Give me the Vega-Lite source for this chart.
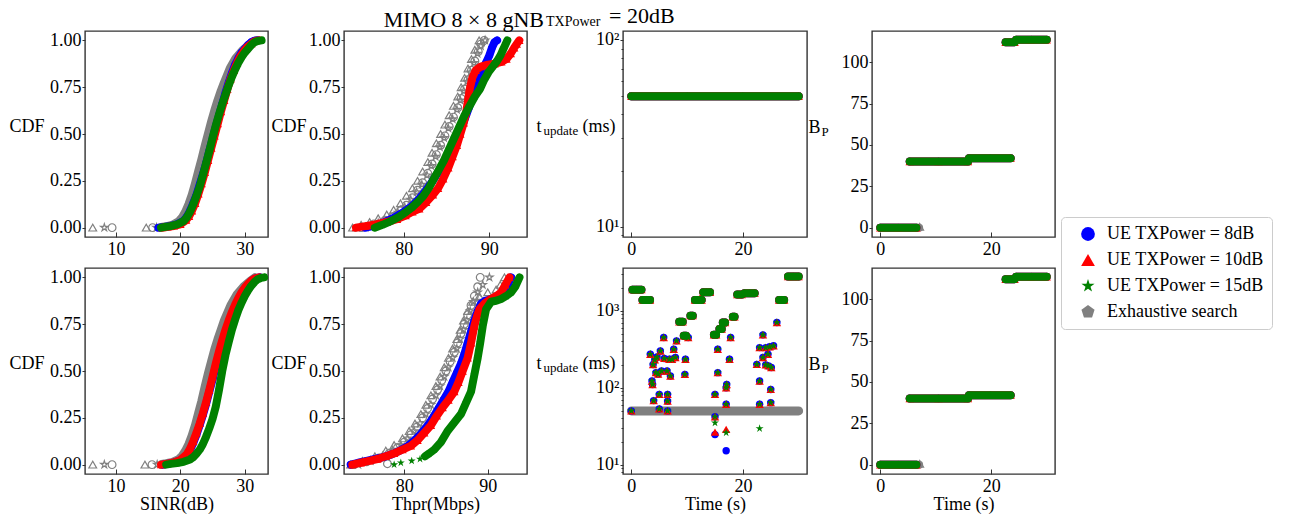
{
"$schema":"https://vega.github.io/schema/vega-lite/v6.json",
"padding":{"left":8,"top":4,"right":4,"bottom":0},
"bounds":"flush",
"spacing":237,
"resolve":{"scale":{"color":"shared","shape":"shared"}},
"config":{
"font":"Liberation Serif",
"view":{"stroke":"#333333","strokeWidth":1.4},
"axis":{"domain":false,"grid":false,"labelFont":"Liberation Serif","labelFontSize":18,"labelColor":"#000000","tickColor":"#333333","tickWidth":1,"titleFont":"Liberation Serif","titleFontSize":18,"titleFontWeight":"normal","titleColor":"#000000","labelFlush":false,"labelOverlap":false},
"axisX":{"tickSize":-5,"labelPadding":8,"titleBaseline":"alphabetic"},
"axisY":{"tickSize":3,"labelPadding":1,"titleAngle":0,"titleAlign":"left","titleBaseline":"alphabetic"},
"point":{"opacity":1}
},
"datasets":{
"p1":[
{"x":16.6,"y":0,"s":"b"},{"x":17.5,"y":0.004,"s":"b"},{"x":18.5,"y":0.009,"s":"b"},{"x":19.5,"y":0.018,"s":"b"},{"x":20.5,"y":0.037,"s":"b"},{"x":21,"y":0.058,"s":"b"},{"x":21.5,"y":0.09,"s":"b"},{"x":22,"y":0.13,"s":"b"},{"x":22.5,"y":0.175,"s":"b"},{"x":23,"y":0.23,"s":"b"},{"x":23.5,"y":0.285,"s":"b"},{"x":24,"y":0.345,"s":"b"},{"x":24.5,"y":0.41,"s":"b"},{"x":25,"y":0.475,"s":"b"},{"x":25.5,"y":0.54,"s":"b"},{"x":26,"y":0.6,"s":"b"},{"x":26.5,"y":0.66,"s":"b"},{"x":27,"y":0.72,"s":"b"},{"x":27.5,"y":0.775,"s":"b"},{"x":28,"y":0.825,"s":"b"},{"x":28.5,"y":0.87,"s":"b"},{"x":29,"y":0.905,"s":"b"},{"x":29.5,"y":0.935,"s":"b"},{"x":30,"y":0.955,"s":"b"},{"x":30.5,"y":0.975,"s":"b"},{"x":31,"y":0.99,"s":"b"},{"x":31.5,"y":0.998,"s":"b"},{"x":32,"y":1,"s":"b"},
{"x":17.2,"y":0,"s":"r"},{"x":18,"y":0.004,"s":"r"},{"x":19,"y":0.009,"s":"r"},{"x":20,"y":0.018,"s":"r"},{"x":20.9,"y":0.04,"s":"r"},{"x":21.35,"y":0.06,"s":"r"},{"x":21.8,"y":0.09,"s":"r"},{"x":22.3,"y":0.13,"s":"r"},{"x":22.8,"y":0.18,"s":"r"},{"x":23.3,"y":0.235,"s":"r"},{"x":23.8,"y":0.295,"s":"r"},{"x":24.3,"y":0.36,"s":"r"},{"x":24.8,"y":0.425,"s":"r"},{"x":25.3,"y":0.49,"s":"r"},{"x":25.8,"y":0.555,"s":"r"},{"x":26.3,"y":0.62,"s":"r"},{"x":26.8,"y":0.68,"s":"r"},{"x":27.3,"y":0.74,"s":"r"},{"x":27.8,"y":0.795,"s":"r"},{"x":28.3,"y":0.84,"s":"r"},{"x":28.8,"y":0.88,"s":"r"},{"x":29.3,"y":0.915,"s":"r"},{"x":29.9,"y":0.945,"s":"r"},{"x":30.4,"y":0.965,"s":"r"},{"x":31,"y":0.982,"s":"r"},{"x":31.5,"y":0.995,"s":"r"},{"x":32.2,"y":1,"s":"r"},
{"x":17,"y":0,"s":"g"},{"x":17.5,"y":0.003,"s":"g"},{"x":18.5,"y":0.008,"s":"g"},{"x":19.5,"y":0.017,"s":"g"},{"x":20.5,"y":0.035,"s":"g"},{"x":21,"y":0.055,"s":"g"},{"x":21.5,"y":0.085,"s":"g"},{"x":22,"y":0.125,"s":"g"},{"x":22.5,"y":0.17,"s":"g"},{"x":23,"y":0.22,"s":"g"},{"x":23.5,"y":0.28,"s":"g"},{"x":24,"y":0.345,"s":"g"},{"x":24.5,"y":0.41,"s":"g"},{"x":25,"y":0.48,"s":"g"},{"x":25.5,"y":0.545,"s":"g"},{"x":26,"y":0.605,"s":"g"},{"x":26.5,"y":0.66,"s":"g"},{"x":27,"y":0.71,"s":"g"},{"x":27.5,"y":0.76,"s":"g"},{"x":28,"y":0.805,"s":"g"},{"x":28.5,"y":0.845,"s":"g"},{"x":29,"y":0.88,"s":"g"},{"x":29.5,"y":0.91,"s":"g"},{"x":30,"y":0.935,"s":"g"},{"x":30.5,"y":0.955,"s":"g"},{"x":31,"y":0.975,"s":"g"},{"x":31.5,"y":0.99,"s":"g"},{"x":32,"y":0.997,"s":"g"},{"x":32.6,"y":1,"s":"g"},
{"x":17,"y":0.002,"s":"e","k":"l"},{"x":17.8,"y":0.006,"s":"e","k":"l"},{"x":18.8,"y":0.015,"s":"e","k":"l"},{"x":19.8,"y":0.035,"s":"e","k":"l"},{"x":20.3,"y":0.055,"s":"e","k":"l"},{"x":20.8,"y":0.085,"s":"e","k":"l"},{"x":21.3,"y":0.125,"s":"e","k":"l"},{"x":21.8,"y":0.175,"s":"e","k":"l"},{"x":22.3,"y":0.235,"s":"e","k":"l"},{"x":22.8,"y":0.3,"s":"e","k":"l"},{"x":23.3,"y":0.365,"s":"e","k":"l"},{"x":23.8,"y":0.435,"s":"e","k":"l"},{"x":24.3,"y":0.5,"s":"e","k":"l"},{"x":24.8,"y":0.565,"s":"e","k":"l"},{"x":25.3,"y":0.625,"s":"e","k":"l"},{"x":25.8,"y":0.68,"s":"e","k":"l"},{"x":26.3,"y":0.73,"s":"e","k":"l"},{"x":26.8,"y":0.775,"s":"e","k":"l"},{"x":27.7,"y":0.85,"s":"e","k":"l"},{"x":28.6,"y":0.905,"s":"e","k":"l"},{"x":29.6,"y":0.945,"s":"e","k":"l"},{"x":30.6,"y":0.975,"s":"e","k":"l"},{"x":31.8,"y":1,"s":"e","k":"l"},
{"x":6.4,"y":0,"s":"e","m":"r"},{"x":8.2,"y":0,"s":"e","m":"g"},{"x":9.4,"y":0,"s":"e","m":"b"},{"x":14.7,"y":0,"s":"e","m":"r"},{"x":15.7,"y":0,"s":"e","m":"b"},{"x":16.3,"y":0,"s":"e","m":"g"}
],
"p5":[
{"x":17.3,"y":0,"s":"b"},{"x":18,"y":0.004,"s":"b"},{"x":19,"y":0.011,"s":"b"},{"x":20,"y":0.023,"s":"b"},{"x":21,"y":0.05,"s":"b"},{"x":21.5,"y":0.078,"s":"b"},{"x":22,"y":0.115,"s":"b"},{"x":22.5,"y":0.16,"s":"b"},{"x":23,"y":0.21,"s":"b"},{"x":23.5,"y":0.265,"s":"b"},{"x":24,"y":0.325,"s":"b"},{"x":24.5,"y":0.39,"s":"b"},{"x":25,"y":0.455,"s":"b"},{"x":25.5,"y":0.525,"s":"b"},{"x":26,"y":0.59,"s":"b"},{"x":26.5,"y":0.65,"s":"b"},{"x":27,"y":0.705,"s":"b"},{"x":27.5,"y":0.755,"s":"b"},{"x":28,"y":0.8,"s":"b"},{"x":28.5,"y":0.845,"s":"b"},{"x":29,"y":0.88,"s":"b"},{"x":29.5,"y":0.915,"s":"b"},{"x":30,"y":0.94,"s":"b"},{"x":30.5,"y":0.963,"s":"b"},{"x":31,"y":0.98,"s":"b"},{"x":31.5,"y":0.992,"s":"b"},{"x":32.3,"y":1,"s":"b"},
{"x":17,"y":0,"s":"r"},{"x":18,"y":0.005,"s":"r"},{"x":19,"y":0.012,"s":"r"},{"x":20,"y":0.025,"s":"r"},{"x":21,"y":0.055,"s":"r"},{"x":21.5,"y":0.085,"s":"r"},{"x":22,"y":0.125,"s":"r"},{"x":22.5,"y":0.17,"s":"r"},{"x":23,"y":0.22,"s":"r"},{"x":23.5,"y":0.275,"s":"r"},{"x":24,"y":0.335,"s":"r"},{"x":24.5,"y":0.4,"s":"r"},{"x":25,"y":0.47,"s":"r"},{"x":25.5,"y":0.54,"s":"r"},{"x":26,"y":0.605,"s":"r"},{"x":26.5,"y":0.665,"s":"r"},{"x":27,"y":0.72,"s":"r"},{"x":27.5,"y":0.77,"s":"r"},{"x":28,"y":0.815,"s":"r"},{"x":28.5,"y":0.855,"s":"r"},{"x":29,"y":0.89,"s":"r"},{"x":29.5,"y":0.92,"s":"r"},{"x":30,"y":0.945,"s":"r"},{"x":30.5,"y":0.965,"s":"r"},{"x":31,"y":0.982,"s":"r"},{"x":31.5,"y":0.993,"s":"r"},{"x":32.2,"y":1,"s":"r"},
{"x":17.8,"y":0,"s":"g"},{"x":18.5,"y":0.004,"s":"g"},{"x":19.5,"y":0.008,"s":"g"},{"x":20.5,"y":0.015,"s":"g"},{"x":21.5,"y":0.028,"s":"g"},{"x":22,"y":0.04,"s":"g"},{"x":22.5,"y":0.058,"s":"g"},{"x":23,"y":0.08,"s":"g"},{"x":23.5,"y":0.11,"s":"g"},{"x":24,"y":0.15,"s":"g"},{"x":24.5,"y":0.195,"s":"g"},{"x":25,"y":0.245,"s":"g"},{"x":25.5,"y":0.31,"s":"g"},{"x":26,"y":0.4,"s":"g"},{"x":26.5,"y":0.5,"s":"g"},{"x":27,"y":0.585,"s":"g"},{"x":27.5,"y":0.655,"s":"g"},{"x":28,"y":0.72,"s":"g"},{"x":28.5,"y":0.775,"s":"g"},{"x":29,"y":0.825,"s":"g"},{"x":29.5,"y":0.865,"s":"g"},{"x":30,"y":0.9,"s":"g"},{"x":30.5,"y":0.93,"s":"g"},{"x":31,"y":0.955,"s":"g"},{"x":31.5,"y":0.975,"s":"g"},{"x":32,"y":0.99,"s":"g"},{"x":32.5,"y":0.997,"s":"g"},{"x":33,"y":1,"s":"g"},
{"x":17.1,"y":0.002,"s":"e","k":"l"},{"x":17.8,"y":0.006,"s":"e","k":"l"},{"x":18.8,"y":0.014,"s":"e","k":"l"},{"x":19.8,"y":0.03,"s":"e","k":"l"},{"x":20.3,"y":0.048,"s":"e","k":"l"},{"x":20.8,"y":0.075,"s":"e","k":"l"},{"x":21.3,"y":0.11,"s":"e","k":"l"},{"x":21.8,"y":0.155,"s":"e","k":"l"},{"x":22.3,"y":0.21,"s":"e","k":"l"},{"x":22.8,"y":0.275,"s":"e","k":"l"},{"x":23.3,"y":0.34,"s":"e","k":"l"},{"x":23.8,"y":0.415,"s":"e","k":"l"},{"x":24.3,"y":0.485,"s":"e","k":"l"},{"x":24.8,"y":0.55,"s":"e","k":"l"},{"x":25.3,"y":0.615,"s":"e","k":"l"},{"x":25.8,"y":0.67,"s":"e","k":"l"},{"x":26.3,"y":0.72,"s":"e","k":"l"},{"x":26.8,"y":0.77,"s":"e","k":"l"},{"x":27.3,"y":0.81,"s":"e","k":"l"},{"x":27.8,"y":0.85,"s":"e","k":"l"},{"x":28.8,"y":0.91,"s":"e","k":"l"},{"x":29.8,"y":0.95,"s":"e","k":"l"},{"x":30.8,"y":0.98,"s":"e","k":"l"},{"x":31.6,"y":1,"s":"e","k":"l"},
{"x":6.4,"y":0,"s":"e","m":"r"},{"x":8.2,"y":0,"s":"e","m":"g"},{"x":9.4,"y":0,"s":"e","m":"b"},{"x":14.5,"y":0,"s":"e","m":"r"},{"x":15.6,"y":0,"s":"e","m":"b"},{"x":16.4,"y":0,"s":"e","m":"g"}
],
"p2":[
{"x":75,"y":0,"s":"e","m":"b"},{"x":76.5,"y":0.02,"s":"e","m":"b"},{"x":77.8,"y":0.04,"s":"e","m":"b"},{"x":78.8,"y":0.06,"s":"e","m":"b"},{"x":79.6,"y":0.09,"s":"e","m":"b"},{"x":80.3,"y":0.12,"s":"e","m":"b"},{"x":81,"y":0.16,"s":"e","m":"b"},{"x":81.6,"y":0.2,"s":"e","m":"b"},{"x":82.2,"y":0.24,"s":"e","m":"b"},{"x":82.8,"y":0.29,"s":"e","m":"b"},{"x":83.3,"y":0.34,"s":"e","m":"b"},{"x":83.8,"y":0.39,"s":"e","m":"b"},{"x":84.3,"y":0.44,"s":"e","m":"b"},{"x":84.8,"y":0.49,"s":"e","m":"b"},{"x":85.3,"y":0.54,"s":"e","m":"b"},{"x":85.8,"y":0.59,"s":"e","m":"b"},{"x":86.3,"y":0.64,"s":"e","m":"b"},{"x":86.7,"y":0.69,"s":"e","m":"b"},{"x":87.1,"y":0.74,"s":"e","m":"b"},{"x":87.5,"y":0.79,"s":"e","m":"b"},{"x":87.9,"y":0.84,"s":"e","m":"b"},{"x":88.3,"y":0.89,"s":"e","m":"b"},{"x":88.7,"y":0.94,"s":"e","m":"b"},{"x":89,"y":0.98,"s":"e","m":"b"},{"x":89.4,"y":1,"s":"e","m":"b"},
{"x":74,"y":0,"s":"e","m":"r"},{"x":75,"y":0.015,"s":"e","m":"r"},{"x":76,"y":0.03,"s":"e","m":"r"},{"x":77,"y":0.05,"s":"e","m":"r"},{"x":78,"y":0.07,"s":"e","m":"r"},{"x":78.8,"y":0.095,"s":"e","m":"r"},{"x":79.6,"y":0.13,"s":"e","m":"r"},{"x":80.3,"y":0.17,"s":"e","m":"r"},{"x":81,"y":0.21,"s":"e","m":"r"},{"x":81.6,"y":0.25,"s":"e","m":"r"},{"x":82.2,"y":0.3,"s":"e","m":"r"},{"x":82.8,"y":0.35,"s":"e","m":"r"},{"x":83.3,"y":0.4,"s":"e","m":"r"},{"x":83.8,"y":0.45,"s":"e","m":"r"},{"x":84.3,"y":0.5,"s":"e","m":"r"},{"x":84.8,"y":0.55,"s":"e","m":"r"},{"x":85.3,"y":0.6,"s":"e","m":"r"},{"x":85.8,"y":0.65,"s":"e","m":"r"},{"x":86.3,"y":0.7,"s":"e","m":"r"},{"x":86.7,"y":0.75,"s":"e","m":"r"},{"x":87.1,"y":0.8,"s":"e","m":"r"},{"x":87.5,"y":0.85,"s":"e","m":"r"},{"x":87.9,"y":0.9,"s":"e","m":"r"},{"x":88.3,"y":0.95,"s":"e","m":"r"},{"x":88.8,"y":1,"s":"e","m":"r"},
{"x":75.5,"y":0,"s":"e","m":"g"},{"x":77,"y":0.025,"s":"e","m":"g"},{"x":78.3,"y":0.05,"s":"e","m":"g"},{"x":79.3,"y":0.08,"s":"e","m":"g"},{"x":80.1,"y":0.11,"s":"e","m":"g"},{"x":80.8,"y":0.15,"s":"e","m":"g"},{"x":81.5,"y":0.19,"s":"e","m":"g"},{"x":82.1,"y":0.23,"s":"e","m":"g"},{"x":82.7,"y":0.28,"s":"e","m":"g"},{"x":83.2,"y":0.33,"s":"e","m":"g"},{"x":83.7,"y":0.38,"s":"e","m":"g"},{"x":84.2,"y":0.43,"s":"e","m":"g"},{"x":84.7,"y":0.48,"s":"e","m":"g"},{"x":85.2,"y":0.53,"s":"e","m":"g"},{"x":85.7,"y":0.58,"s":"e","m":"g"},{"x":86.2,"y":0.63,"s":"e","m":"g"},{"x":86.6,"y":0.68,"s":"e","m":"g"},{"x":87,"y":0.73,"s":"e","m":"g"},{"x":87.4,"y":0.78,"s":"e","m":"g"},{"x":87.8,"y":0.83,"s":"e","m":"g"},{"x":88.2,"y":0.88,"s":"e","m":"g"},{"x":88.6,"y":0.93,"s":"e","m":"g"},{"x":89,"y":0.97,"s":"e","m":"g"},{"x":89.5,"y":1,"s":"e","m":"g"},
{"x":75.5,"y":0,"s":"b"},{"x":76.5,"y":0.01,"s":"b"},{"x":77.5,"y":0.025,"s":"b"},{"x":78.5,"y":0.045,"s":"b"},{"x":79.5,"y":0.07,"s":"b"},{"x":80.5,"y":0.1,"s":"b"},{"x":81.3,"y":0.13,"s":"b"},{"x":82,"y":0.165,"s":"b"},{"x":82.6,"y":0.2,"s":"b"},{"x":83.3,"y":0.245,"s":"b"},{"x":84,"y":0.295,"s":"b"},{"x":84.6,"y":0.34,"s":"b"},{"x":85.2,"y":0.39,"s":"b"},{"x":85.8,"y":0.44,"s":"b"},{"x":86.3,"y":0.49,"s":"b"},{"x":86.8,"y":0.54,"s":"b"},{"x":87.2,"y":0.59,"s":"b"},{"x":87.6,"y":0.64,"s":"b"},{"x":88,"y":0.69,"s":"b"},{"x":88.4,"y":0.74,"s":"b"},{"x":88.8,"y":0.79,"s":"b"},{"x":89.2,"y":0.84,"s":"b"},{"x":89.6,"y":0.88,"s":"b"},{"x":90,"y":0.92,"s":"b"},{"x":90.3,"y":0.96,"s":"b"},{"x":90.6,"y":0.99,"s":"b"},{"x":90.9,"y":1,"s":"b"},
{"x":74.4,"y":0,"s":"r"},{"x":75.5,"y":0.008,"s":"r"},{"x":76.8,"y":0.018,"s":"r"},{"x":78,"y":0.03,"s":"r"},{"x":79.2,"y":0.045,"s":"r"},{"x":80.2,"y":0.065,"s":"r"},{"x":81,"y":0.085,"s":"r"},{"x":81.8,"y":0.1,"s":"r"},{"x":82.6,"y":0.135,"s":"r"},{"x":83.4,"y":0.175,"s":"r"},{"x":84,"y":0.21,"s":"r"},{"x":84.6,"y":0.26,"s":"r"},{"x":85.2,"y":0.32,"s":"r"},{"x":85.7,"y":0.38,"s":"r"},{"x":86.2,"y":0.44,"s":"r"},{"x":86.6,"y":0.5,"s":"r"},{"x":87,"y":0.56,"s":"r"},{"x":87.3,"y":0.62,"s":"r"},{"x":87.5,"y":0.68,"s":"r"},{"x":87.7,"y":0.74,"s":"r"},{"x":88,"y":0.8,"s":"r"},{"x":88.4,"y":0.84,"s":"r"},{"x":89,"y":0.86,"s":"r"},{"x":89.8,"y":0.87,"s":"r"},{"x":90.6,"y":0.875,"s":"r"},{"x":91.4,"y":0.885,"s":"r"},{"x":92,"y":0.9,"s":"r"},{"x":92.5,"y":0.93,"s":"r"},{"x":92.9,"y":0.96,"s":"r"},{"x":93.2,"y":0.98,"s":"r"},{"x":93.5,"y":1,"s":"r"},
{"x":76.6,"y":0,"s":"g"},{"x":77.5,"y":0.015,"s":"g"},{"x":78.5,"y":0.035,"s":"g"},{"x":79.5,"y":0.06,"s":"g"},{"x":80.3,"y":0.085,"s":"g"},{"x":81,"y":0.11,"s":"g"},{"x":81.7,"y":0.14,"s":"g"},{"x":82.3,"y":0.17,"s":"g"},{"x":82.9,"y":0.21,"s":"g"},{"x":83.5,"y":0.26,"s":"g"},{"x":84.1,"y":0.31,"s":"g"},{"x":84.7,"y":0.36,"s":"g"},{"x":85.3,"y":0.42,"s":"g"},{"x":85.9,"y":0.48,"s":"g"},{"x":86.5,"y":0.54,"s":"g"},{"x":87.1,"y":0.6,"s":"g"},{"x":87.7,"y":0.65,"s":"g"},{"x":88.3,"y":0.7,"s":"g"},{"x":88.9,"y":0.74,"s":"g"},{"x":89.4,"y":0.79,"s":"g"},{"x":89.9,"y":0.83,"s":"g"},{"x":90.4,"y":0.86,"s":"g"},{"x":90.9,"y":0.89,"s":"g"},{"x":91.3,"y":0.92,"s":"g"},{"x":91.6,"y":0.95,"s":"g"},{"x":91.9,"y":0.98,"s":"g"},{"x":92.1,"y":1,"s":"g"}
],
"p6":[
{"x":74,"y":0,"s":"e","m":"b"},{"x":75.5,"y":0.015,"s":"e","m":"b"},{"x":77,"y":0.035,"s":"e","m":"b"},{"x":78,"y":0.005,"s":"e","m":"b"},{"x":78.2,"y":0.06,"s":"e","m":"b"},{"x":79.2,"y":0.09,"s":"e","m":"b"},{"x":80,"y":0.12,"s":"e","m":"b"},{"x":80.8,"y":0.16,"s":"e","m":"b"},{"x":81.5,"y":0.2,"s":"e","m":"b"},{"x":82.2,"y":0.25,"s":"e","m":"b"},{"x":82.8,"y":0.3,"s":"e","m":"b"},{"x":83.4,"y":0.35,"s":"e","m":"b"},{"x":84,"y":0.4,"s":"e","m":"b"},{"x":84.5,"y":0.45,"s":"e","m":"b"},{"x":85,"y":0.5,"s":"e","m":"b"},{"x":85.5,"y":0.55,"s":"e","m":"b"},{"x":86,"y":0.6,"s":"e","m":"b"},{"x":86.4,"y":0.65,"s":"e","m":"b"},{"x":86.8,"y":0.7,"s":"e","m":"b"},{"x":87.2,"y":0.75,"s":"e","m":"b"},{"x":87.6,"y":0.8,"s":"e","m":"b"},{"x":88,"y":0.85,"s":"e","m":"b"},{"x":88.4,"y":0.9,"s":"e","m":"b"},{"x":88.8,"y":0.95,"s":"e","m":"b"},{"x":89.1,"y":1,"s":"e","m":"b"},
{"x":73.6,"y":0,"s":"e","m":"r"},{"x":75,"y":0.02,"s":"e","m":"r"},{"x":76.5,"y":0.045,"s":"e","m":"r"},{"x":77.8,"y":0.075,"s":"e","m":"r"},{"x":78.8,"y":0.105,"s":"e","m":"r"},{"x":79.8,"y":0.14,"s":"e","m":"r"},{"x":80.6,"y":0.18,"s":"e","m":"r"},{"x":81.3,"y":0.22,"s":"e","m":"r"},{"x":82,"y":0.27,"s":"e","m":"r"},{"x":82.6,"y":0.32,"s":"e","m":"r"},{"x":83.2,"y":0.37,"s":"e","m":"r"},{"x":83.8,"y":0.42,"s":"e","m":"r"},{"x":84.3,"y":0.47,"s":"e","m":"r"},{"x":84.8,"y":0.52,"s":"e","m":"r"},{"x":85.3,"y":0.57,"s":"e","m":"r"},{"x":85.8,"y":0.62,"s":"e","m":"r"},{"x":86.3,"y":0.67,"s":"e","m":"r"},{"x":86.7,"y":0.72,"s":"e","m":"r"},{"x":87.1,"y":0.77,"s":"e","m":"r"},{"x":87.6,"y":0.82,"s":"e","m":"r"},{"x":88.2,"y":0.87,"s":"e","m":"r"},{"x":89,"y":0.9,"s":"e","m":"r"},{"x":90,"y":0.92,"s":"e","m":"r"},{"x":91,"y":0.935,"s":"e","m":"r"},{"x":91.5,"y":0.96,"s":"e","m":"r"},{"x":92,"y":1,"s":"e","m":"r"},
{"x":74.5,"y":0,"s":"e","m":"g"},{"x":76,"y":0.02,"s":"e","m":"g"},{"x":77.4,"y":0.045,"s":"e","m":"g"},{"x":78.6,"y":0.075,"s":"e","m":"g"},{"x":79.6,"y":0.105,"s":"e","m":"g"},{"x":80.4,"y":0.14,"s":"e","m":"g"},{"x":81.2,"y":0.18,"s":"e","m":"g"},{"x":81.9,"y":0.22,"s":"e","m":"g"},{"x":82.6,"y":0.27,"s":"e","m":"g"},{"x":83.2,"y":0.32,"s":"e","m":"g"},{"x":83.8,"y":0.37,"s":"e","m":"g"},{"x":84.3,"y":0.42,"s":"e","m":"g"},{"x":84.8,"y":0.47,"s":"e","m":"g"},{"x":85.3,"y":0.52,"s":"e","m":"g"},{"x":85.8,"y":0.57,"s":"e","m":"g"},{"x":86.3,"y":0.62,"s":"e","m":"g"},{"x":86.7,"y":0.67,"s":"e","m":"g"},{"x":87.1,"y":0.72,"s":"e","m":"g"},{"x":87.5,"y":0.77,"s":"e","m":"g"},{"x":87.9,"y":0.82,"s":"e","m":"g"},{"x":88.3,"y":0.87,"s":"e","m":"g"},{"x":88.8,"y":0.92,"s":"e","m":"g"},{"x":89.4,"y":0.96,"s":"e","m":"g"},{"x":90.2,"y":1,"s":"e","m":"g"},
{"x":73.6,"y":0,"s":"b"},{"x":74.5,"y":0.01,"s":"b"},{"x":75.5,"y":0.02,"s":"b"},{"x":76.5,"y":0.03,"s":"b"},{"x":77.5,"y":0.04,"s":"b"},{"x":78.5,"y":0.055,"s":"b"},{"x":79.5,"y":0.075,"s":"b"},{"x":80.3,"y":0.095,"s":"b"},{"x":81,"y":0.12,"s":"b"},{"x":81.7,"y":0.15,"s":"b"},{"x":82.3,"y":0.18,"s":"b"},{"x":82.9,"y":0.215,"s":"b"},{"x":83.5,"y":0.255,"s":"b"},{"x":84.1,"y":0.3,"s":"b"},{"x":84.7,"y":0.345,"s":"b"},{"x":85.3,"y":0.39,"s":"b"},{"x":85.8,"y":0.44,"s":"b"},{"x":86.3,"y":0.49,"s":"b"},{"x":86.8,"y":0.54,"s":"b"},{"x":87.2,"y":0.59,"s":"b"},{"x":87.6,"y":0.65,"s":"b"},{"x":88,"y":0.71,"s":"b"},{"x":88.4,"y":0.77,"s":"b"},{"x":88.8,"y":0.82,"s":"b"},{"x":89.2,"y":0.86,"s":"b"},{"x":89.7,"y":0.875,"s":"b"},{"x":90.5,"y":0.885,"s":"b"},{"x":91.3,"y":0.9,"s":"b"},{"x":92,"y":0.93,"s":"b"},{"x":92.5,"y":0.97,"s":"b"},{"x":92.8,"y":1,"s":"b"},
{"x":73.8,"y":0,"s":"r"},{"x":74.8,"y":0.01,"s":"r"},{"x":75.8,"y":0.02,"s":"r"},{"x":76.8,"y":0.03,"s":"r"},{"x":77.8,"y":0.045,"s":"r"},{"x":78.8,"y":0.06,"s":"r"},{"x":79.8,"y":0.08,"s":"r"},{"x":80.8,"y":0.1,"s":"r"},{"x":81.6,"y":0.13,"s":"r"},{"x":82.4,"y":0.17,"s":"r"},{"x":83.2,"y":0.21,"s":"r"},{"x":83.9,"y":0.26,"s":"r"},{"x":84.6,"y":0.305,"s":"r"},{"x":85.3,"y":0.345,"s":"r"},{"x":86,"y":0.39,"s":"r"},{"x":86.5,"y":0.44,"s":"r"},{"x":87,"y":0.5,"s":"r"},{"x":87.6,"y":0.57,"s":"r"},{"x":88,"y":0.65,"s":"r"},{"x":88.4,"y":0.74,"s":"r"},{"x":88.7,"y":0.79,"s":"r"},{"x":89,"y":0.83,"s":"r"},{"x":89.6,"y":0.86,"s":"r"},{"x":90.4,"y":0.885,"s":"r"},{"x":91,"y":0.9,"s":"r"},{"x":91.6,"y":0.92,"s":"r"},{"x":92.1,"y":0.96,"s":"r"},{"x":92.6,"y":1,"s":"r"},
{"x":78.8,"y":0,"s":"g","nl":1},{"x":79.6,"y":0.01,"s":"g","nl":1},{"x":80.9,"y":0.02,"s":"g","nl":1},{"x":81.9,"y":0.03,"s":"g","nl":1},{"x":82.5,"y":0.045,"s":"g"},{"x":83,"y":0.06,"s":"g"},{"x":83.6,"y":0.08,"s":"g"},{"x":84.4,"y":0.12,"s":"g"},{"x":85.2,"y":0.18,"s":"g"},{"x":86,"y":0.225,"s":"g"},{"x":86.8,"y":0.27,"s":"g"},{"x":87.4,"y":0.33,"s":"g"},{"x":88,"y":0.39,"s":"g"},{"x":88.4,"y":0.48,"s":"g"},{"x":88.8,"y":0.57,"s":"g"},{"x":89.1,"y":0.65,"s":"g"},{"x":89.4,"y":0.74,"s":"g"},{"x":89.8,"y":0.83,"s":"g"},{"x":90.4,"y":0.87,"s":"g"},{"x":91,"y":0.875,"s":"g"},{"x":91.6,"y":0.885,"s":"g"},{"x":92.2,"y":0.9,"s":"g"},{"x":92.8,"y":0.92,"s":"g"},{"x":93.3,"y":0.95,"s":"g"},{"x":93.8,"y":1,"s":"g"}
],
"p3c":[
{"x":0,"y":50,"g":"a","s":"brg"},{"x":10,"y":50,"g":"a","s":"brg"},{"x":20,"y":50,"g":"a","s":"brg"},{"x":30,"y":50,"g":"a","s":"brg"}
],
"p3e":[
{"x":0,"y":50,"k":"l"},{"x":30,"y":50,"k":"l"}
],
"p4c":[
{"x":0,"y":0,"g":"a","s":"brg"},{"x":3.2,"y":0,"g":"a","s":"brg"},{"x":6.5,"y":0,"g":"a","s":"brg"},
{"x":5.3,"y":40,"g":"b","s":"brg"},{"x":10.5,"y":40,"g":"b","s":"brg"},{"x":15.8,"y":40,"g":"b","s":"brg"},
{"x":16,"y":42,"g":"c","s":"brg"},{"x":19.8,"y":42,"g":"c","s":"brg"},{"x":23.5,"y":42,"g":"c","s":"brg"},
{"x":22.6,"y":112,"g":"d","s":"brg"},{"x":24.2,"y":112,"g":"d","s":"brg"},
{"x":24.5,"y":113.5,"g":"e","s":"brg"},{"x":27.2,"y":113.5,"g":"e","s":"brg"},{"x":30,"y":113.5,"g":"e","s":"brg"}
],
"p4e":[
{"x":0,"y":0,"k":"l"},{"x":7,"y":0,"k":"l"},{"x":7.1,"y":0.5,"m":"r"}
],
"p7c":[
{"x":0.2,"y":1880,"g":"1","s":"brg"},{"x":1,"y":1880,"g":"1","s":"brg"},{"x":1.8,"y":1880,"g":"1","s":"brg"},
{"x":2,"y":1377,"g":"2","s":"brg"},{"x":2.7,"y":1377,"g":"2","s":"brg"},{"x":3.35,"y":1377,"g":"2","s":"brg"},
{"x":8.6,"y":719,"g":"3","s":"brg"},{"x":9.2,"y":719,"g":"3","s":"brg"},
{"x":9.4,"y":472,"g":"4","s":"brg"},{"x":9.8,"y":472,"g":"4","s":"brg"},
{"x":10.6,"y":862,"g":"5","s":"brg"},{"x":11,"y":862,"g":"5","s":"brg"},
{"x":11.4,"y":1377,"g":"6","s":"brg"},{"x":12,"y":1377,"g":"6","s":"brg"},{"x":12.6,"y":1377,"g":"6","s":"brg"},
{"x":12.9,"y":1734,"g":"7","s":"brg"},{"x":13.5,"y":1734,"g":"7","s":"brg"},{"x":14.1,"y":1734,"g":"7","s":"brg"},
{"x":14.8,"y":486,"g":"8","s":"brg"},{"x":15.2,"y":486,"g":"8","s":"brg"},
{"x":15.8,"y":577,"g":"9","s":"brg"},{"x":16.2,"y":577,"g":"9","s":"brg"},
{"x":16.4,"y":704,"g":"10","s":"brg"},{"x":16.8,"y":704,"g":"10","s":"brg"},
{"x":18.2,"y":835,"g":"11","s":"brg"},{"x":18.5,"y":835,"g":"11","s":"brg"},
{"x":19,"y":1620,"g":"12","s":"brg"},{"x":19.8,"y":1620,"g":"12","s":"brg"},
{"x":20.3,"y":1690,"g":"13","s":"brg"},{"x":21.2,"y":1690,"g":"13","s":"brg"},{"x":22.1,"y":1690,"g":"13","s":"brg"},
{"x":26.5,"y":1377,"g":"14","s":"brg"},{"x":27,"y":1377,"g":"14","s":"brg"},{"x":27.4,"y":1377,"g":"14","s":"brg"},
{"x":28.1,"y":2775,"g":"15","s":"brg"},{"x":29,"y":2775,"g":"15","s":"brg"},{"x":30,"y":2775,"g":"15","s":"brg"},
{"x":0,"y":50,"s":"brg"},{"x":3.4,"y":272,"s":"brg"},{"x":3.7,"y":122,"s":"brg"},{"x":3.8,"y":110,"s":"brg"},{"x":4,"y":68,"s":"brg"},{"x":3.9,"y":200,"s":"brg"},{"x":4.2,"y":230,"s":"brg"},{"x":4.4,"y":157,"s":"brg"},{"x":4.6,"y":250,"s":"brg"},{"x":4.8,"y":150,"s":"brg"},{"x":5,"y":82,"s":"brg"},{"x":5,"y":53,"s":"brg"},{"x":5.2,"y":300,"s":"brg"},{"x":5.4,"y":165,"s":"brg"},{"x":5.8,"y":449,"s":"brg"},{"x":5.9,"y":240,"s":"brg"},{"x":6.4,"y":165,"s":"brg"},{"x":6.5,"y":82,"s":"brg"},{"x":6.5,"y":67,"s":"brg"},{"x":6.5,"y":50,"s":"brg"},{"x":6.8,"y":234,"s":"brg"},{"x":7,"y":142,"s":"brg"},{"x":7.3,"y":234,"s":"brg"},{"x":7.6,"y":316,"s":"brg"},{"x":7.9,"y":247,"s":"brg"},{"x":8.1,"y":406,"s":"brg"},{"x":9.7,"y":234,"s":"brg"},{"x":9.6,"y":149,"s":"brg"},{"x":10.2,"y":449,"s":"brg"},{"x":15,"y":82,"s":"brg"},{"x":15.5,"y":316,"s":"brg"},{"x":15.5,"y":157,"s":"brg"},{"x":17,"y":61,"s":"brg"},{"x":17,"y":100,"s":"brg"},{"x":17.1,"y":110,"s":"brg"},{"x":17.6,"y":234,"s":"brg"},{"x":17.8,"y":449,"s":"brg"},{"x":22.5,"y":201,"s":"brg"},{"x":23,"y":332,"s":"brg"},{"x":23,"y":122,"s":"brg"},{"x":23,"y":61,"s":"brg"},{"x":23.6,"y":486,"s":"brg"},{"x":23.6,"y":247,"s":"brg"},{"x":24.1,"y":332,"s":"brg"},{"x":24.1,"y":198,"s":"brg"},{"x":24.5,"y":272,"s":"brg"},{"x":24.6,"y":192,"s":"brg"},{"x":24.8,"y":340,"s":"brg"},{"x":25,"y":95,"s":"brg"},{"x":25,"y":64,"s":"brg"},{"x":25.1,"y":183,"s":"brg"},{"x":25.5,"y":350,"s":"brg"},{"x":26.1,"y":704,"s":"brg"},{"x":15,"y":42,"s":"brg"},
{"x":15,"y":35,"s":"g"},{"x":15,"y":24.6,"s":"b"},{"x":15,"y":26.5,"s":"r"},{"x":17,"y":15.2,"s":"b"},{"x":17,"y":28.7,"s":"r"},{"x":17,"y":26,"s":"g"},{"x":23,"y":29.5,"s":"g"}
],
"p7e":[
{"x":0,"y":50,"k":"l"},{"x":30,"y":50,"k":"l"}
]
},
"vconcat":[
{"bounds":"flush","spacing":538,"hconcat":[
{"bounds":"flush","spacing":76,"hconcat":[
{"width":183,"height":206,"data":{"name":"p1"},
"encoding":{"x":{"field":"x","type":"quantitative","scale":{"domain":[5.2,33.6],"nice":false,"zero":false},"axis":{"values":[10,20,30],"title":null}},
"y":{"field":"y","type":"quantitative","scale":{"domain":[-0.05,1.05],"nice":false,"zero":false},"axis":{"values":[0,0.25,0.5,0.75,1],"format":".2f","title":"CDF","titleX":-76,"titleY":100}}},
"layer":[
{"transform":[{"filter":"datum.k=='l'"}],"mark":{"type":"line","color":"#808080","strokeWidth":8.5,"strokeCap":"round","strokeJoin":"round"}},
{"transform":[{"filter":"datum.m=='b'"}],"mark":{"type":"point","filled":false,"color":"#808080","size":60,"strokeWidth":1.2,"opacity":1,"shape":"circle"}},
{"transform":[{"filter":"datum.m=='r'"}],"mark":{"type":"point","filled":false,"color":"#808080","size":60,"strokeWidth":1.2,"opacity":1,"shape":"triangle-up"}},
{"transform":[{"filter":"datum.m=='g'"}],"mark":{"type":"point","filled":false,"color":"#808080","size":60,"strokeWidth":1.2,"opacity":1,"shape":"M0,-1L0.2245,-0.309L0.951,-0.309L0.363,0.118L0.588,0.809L0,0.382L-0.588,0.809L-0.363,0.118L-0.951,-0.309L-0.2245,-0.309Z"}},
{"transform":[{"filter":"datum.s=='b'"}],"mark":{"type":"line","color":"#0000ff","strokeWidth":8,"strokeCap":"round","strokeJoin":"round"}},
{"transform":[{"filter":"datum.s=='b'"}],"mark":{"type":"point","filled":true,"size":55,"opacity":1},"encoding":{
"color":{"field":"s","type":"nominal","scale":{"domain":["b","r","g","e"],"range":["#0000ff","#ff0000","#008000","#808080"]},"legend":{"orient":"none","legendX":976,"legendY":186,"title":null,"labelExpr":"datum.label == 'b' ? 'UE TXPower = 8dB' : datum.label == 'r' ? 'UE TXPower = 10dB' : datum.label == 'g' ? 'UE TXPower = 15dB' : 'Exhaustive search'","labelFont":"Liberation Serif","labelFontSize":18,"labelColor":"#000000","symbolSize":190,"symbolStrokeWidth":0,"padding":8,"rowPadding":8,"labelOffset":10,"symbolOffset":10,"strokeColor":"#cccccc","cornerRadius":4,"fillColor":"#ffffff"}},
"shape":{"field":"s","type":"nominal","scale":{"domain":["b","r","g","e"],"range":["circle","triangle-up","M0,-1L0.2245,-0.309L0.951,-0.309L0.363,0.118L0.588,0.809L0,0.382L-0.588,0.809L-0.363,0.118L-0.951,-0.309L-0.2245,-0.309Z","M0,-1L0.951,-0.309L0.588,0.809L-0.588,0.809L-0.951,-0.309Z"]},"legend":{"orient":"none","legendX":976,"legendY":186,"title":null,"labelExpr":"datum.label == 'b' ? 'UE TXPower = 8dB' : datum.label == 'r' ? 'UE TXPower = 10dB' : datum.label == 'g' ? 'UE TXPower = 15dB' : 'Exhaustive search'","labelFont":"Liberation Serif","labelFontSize":18,"labelColor":"#000000","symbolSize":190,"symbolStrokeWidth":0,"padding":8,"rowPadding":8,"labelOffset":10,"symbolOffset":10,"strokeColor":"#cccccc","cornerRadius":4,"fillColor":"#ffffff"}}}},
{"transform":[{"filter":"datum.s=='r'"}],"mark":{"type":"line","color":"#ff0000","strokeWidth":8,"strokeCap":"round","strokeJoin":"round"}},
{"transform":[{"filter":"datum.s=='r'"}],"mark":{"type":"point","filled":true,"size":72,"opacity":1,"color":"#ff0000","shape":"triangle-up"}},
{"transform":[{"filter":"datum.s=='g'"}],"mark":{"type":"line","color":"#008000","strokeWidth":8,"strokeCap":"round","strokeJoin":"round"}},
{"transform":[{"filter":"datum.s=='g'"}],"mark":{"type":"point","filled":true,"size":70,"opacity":1,"color":"#008000","shape":"M0,-1L0.2245,-0.309L0.951,-0.309L0.363,0.118L0.588,0.809L0,0.382L-0.588,0.809L-0.363,0.118L-0.951,-0.309L-0.2245,-0.309Z"}}
]},
{"width":183,"height":206,"data":{"name":"p2"},
"title":{"text":"MIMO 8 × 8 gNB","anchor":"end","frame":"group","dx":17,"dy":25,"offset":7,"baseline":"alphabetic","fontSize":22,"font":"Liberation Serif","fontWeight":"normal","color":"#000000"},
"encoding":{"x":{"field":"x","type":"quantitative","scale":{"domain":[73,94.4],"nice":false,"zero":false},"axis":{"values":[80,90],"title":null}},
"y":{"field":"y","type":"quantitative","scale":{"domain":[-0.05,1.05],"nice":false,"zero":false},"axis":{"values":[0,0.25,0.5,0.75,1],"format":".2f","title":"CDF","titleX":-73,"titleY":100}}},
"layer":[
{"transform":[{"filter":"datum.m=='b'"}],"mark":{"type":"point","filled":false,"color":"#808080","size":60,"strokeWidth":1.2,"opacity":1,"shape":"circle"}},
{"transform":[{"filter":"datum.m=='r'"}],"mark":{"type":"point","filled":false,"color":"#808080","size":60,"strokeWidth":1.2,"opacity":1,"shape":"triangle-up"}},
{"transform":[{"filter":"datum.m=='g'"}],"mark":{"type":"point","filled":false,"color":"#808080","size":60,"strokeWidth":1.2,"opacity":1,"shape":"M0,-1L0.2245,-0.309L0.951,-0.309L0.363,0.118L0.588,0.809L0,0.382L-0.588,0.809L-0.363,0.118L-0.951,-0.309L-0.2245,-0.309Z"}},
{"transform":[{"filter":"datum.s=='b'"}],"mark":{"type":"line","color":"#0000ff","strokeWidth":8,"strokeCap":"round","strokeJoin":"round"}},
{"transform":[{"filter":"datum.s=='b'"}],"mark":{"type":"point","filled":true,"size":55,"opacity":1,"color":"#0000ff","shape":"circle"}},
{"transform":[{"filter":"datum.s=='r'"}],"mark":{"type":"line","color":"#ff0000","strokeWidth":8,"strokeCap":"round","strokeJoin":"round"}},
{"transform":[{"filter":"datum.s=='r'"}],"mark":{"type":"point","filled":true,"size":72,"opacity":1,"color":"#ff0000","shape":"triangle-up"}},
{"transform":[{"filter":"datum.s=='g'"}],"mark":{"type":"line","color":"#008000","strokeWidth":8,"strokeCap":"round","strokeJoin":"round"}},
{"transform":[{"filter":"datum.s=='g'"}],"mark":{"type":"point","filled":true,"size":70,"opacity":1,"color":"#008000","shape":"M0,-1L0.2245,-0.309L0.951,-0.309L0.363,0.118L0.588,0.809L0,0.382L-0.588,0.809L-0.363,0.118L-0.951,-0.309L-0.2245,-0.309Z"}}
]}
]},
{"bounds":"flush","spacing":65,"hconcat":[
{"width":184,"height":206,
"title":{"text":"TXPower","anchor":"start","frame":"group","dx":-77,"dy":13.5,"offset":4,"baseline":"alphabetic","fontSize":14,"font":"Liberation Serif","fontWeight":"normal","color":"#000000"},
"resolve":{"axis":{"y":"independent"}},
"encoding":{"x":{"field":"x","type":"quantitative","scale":{"domain":[-1.5,31.5],"nice":false,"zero":false},"axis":{"values":[0,20],"title":null}},
"y":{"field":"y","type":"quantitative","scale":{"type":"log","domain":[8.83,111.7],"nice":false},"axis":null}},
"layer":[
{"data":{"name":"p3e"},"mark":{"type":"line","color":"#808080","strokeWidth":8.5,"strokeCap":"round"},
"encoding":{"y":{"field":"y","type":"quantitative","scale":{"type":"log","domain":[8.83,111.7],"nice":false},"axis":{"orient":"left","values":[10,100],"labelExpr":"datum.value < 50 ? '10¹' : datum.value < 500 ? '10²' : '10³'","title":"t","titleX":-87,"titleY":100}}}},
{"data":{"name":"p3c"},"transform":[{"filter":"indexof(datum.s,'b')>=0 && isValid(datum.g)"}],"mark":{"type":"line","color":"#0000ff","strokeWidth":8,"strokeCap":"round"},
"encoding":{"detail":{"field":"g","type":"nominal"},"y":{"field":"y","type":"quantitative","scale":{"type":"log","domain":[8.83,111.7],"nice":false},"axis":{"orient":"left","values":[9,20,30,40,50,60,70,80,90],"labels":false,"tickSize":2,"title":"update","titleX":-80,"titleY":103,"titleFontSize":13}}}},
{"data":{"name":"p3c"},"transform":[{"filter":"indexof(datum.s,'b')>=0"}],"mark":{"type":"point","filled":true,"size":55,"opacity":1,"color":"#0000ff","shape":"circle"},
"encoding":{"y":{"field":"y","type":"quantitative","scale":{"type":"log","domain":[8.83,111.7],"nice":false},"axis":{"orient":"left","labels":false,"ticks":false,"title":"(ms)","titleX":-41,"titleY":100}}}},
{"data":{"name":"p3c"},"transform":[{"filter":"indexof(datum.s,'r')>=0 && isValid(datum.g)"}],"mark":{"type":"line","color":"#ff0000","strokeWidth":8,"strokeCap":"round"},"encoding":{"detail":{"field":"g","type":"nominal"}}},
{"data":{"name":"p3c"},"transform":[{"filter":"indexof(datum.s,'r')>=0"}],"mark":{"type":"point","filled":true,"size":72,"opacity":1,"color":"#ff0000","shape":"triangle-up"}},
{"data":{"name":"p3c"},"transform":[{"filter":"indexof(datum.s,'g')>=0 && isValid(datum.g)"}],"mark":{"type":"line","color":"#008000","strokeWidth":8,"strokeCap":"round"},"encoding":{"detail":{"field":"g","type":"nominal"}}},
{"data":{"name":"p3c"},"transform":[{"filter":"indexof(datum.s,'g')>=0"}],"mark":{"type":"point","filled":true,"size":70,"opacity":1,"color":"#008000","shape":"M0,-1L0.2245,-0.309L0.951,-0.309L0.363,0.118L0.588,0.809L0,0.382L-0.588,0.809L-0.363,0.118L-0.951,-0.309L-0.2245,-0.309Z"}}
]},
{"width":183,"height":206,
"title":{"text":"= 20dB","anchor":"start","frame":"group","dx":-263,"dy":28,"offset":7,"baseline":"alphabetic","fontSize":22,"font":"Liberation Serif","fontWeight":"normal","color":"#000000"},
"resolve":{"axis":{"y":"independent"}},
"encoding":{"x":{"field":"x","type":"quantitative","scale":{"domain":[-1.5,31.5],"nice":false,"zero":false},"axis":{"values":[0,20],"title":null}},
"y":{"field":"y","type":"quantitative","scale":{"domain":[-5.6,118.8],"nice":false,"zero":false},"axis":null}},
"layer":[
{"data":{"name":"p4e"},"transform":[{"filter":"datum.k=='l'"}],"mark":{"type":"line","color":"#808080","strokeWidth":8,"strokeCap":"round"},
"encoding":{"y":{"field":"y","type":"quantitative","scale":{"domain":[-5.6,118.8],"nice":false,"zero":false},"axis":{"orient":"left","values":[0,25,50,75,100],"title":"B","titleX":-64,"titleY":101}}}},
{"data":{"name":"p4e"},"transform":[{"filter":"isValid(datum.m)"}],"mark":{"type":"point","filled":false,"color":"#808080","size":60,"strokeWidth":1.2,"opacity":1,"shape":"triangle-up"}},
{"data":{"name":"p4c"},"transform":[{"filter":"indexof(datum.s,'b')>=0 && isValid(datum.g)"}],"mark":{"type":"line","color":"#0000ff","strokeWidth":8,"strokeCap":"round"},
"encoding":{"detail":{"field":"g","type":"nominal"},"y":{"field":"y","type":"quantitative","scale":{"domain":[-5.6,118.8],"nice":false,"zero":false},"axis":{"orient":"left","labels":false,"ticks":false,"title":"P","titleX":-51,"titleY":104,"titleFontSize":13}}}},
{"data":{"name":"p4c"},"transform":[{"filter":"indexof(datum.s,'b')>=0"}],"mark":{"type":"point","filled":true,"size":55,"opacity":1,"color":"#0000ff","shape":"circle"}},
{"data":{"name":"p4c"},"transform":[{"filter":"indexof(datum.s,'r')>=0 && isValid(datum.g)"}],"mark":{"type":"line","color":"#ff0000","strokeWidth":8,"strokeCap":"round"},"encoding":{"detail":{"field":"g","type":"nominal"}}},
{"data":{"name":"p4c"},"transform":[{"filter":"indexof(datum.s,'r')>=0"}],"mark":{"type":"point","filled":true,"size":72,"opacity":1,"color":"#ff0000","shape":"triangle-up"}},
{"data":{"name":"p4c"},"transform":[{"filter":"indexof(datum.s,'g')>=0 && isValid(datum.g)"}],"mark":{"type":"line","color":"#008000","strokeWidth":8,"strokeCap":"round"},"encoding":{"detail":{"field":"g","type":"nominal"}}},
{"data":{"name":"p4c"},"transform":[{"filter":"indexof(datum.s,'g')>=0"}],"mark":{"type":"point","filled":true,"size":70,"opacity":1,"color":"#008000","shape":"M0,-1L0.2245,-0.309L0.951,-0.309L0.363,0.118L0.588,0.809L0,0.382L-0.588,0.809L-0.363,0.118L-0.951,-0.309L-0.2245,-0.309Z"}}
]}
]}
]},
{"bounds":"flush","spacing":538,"hconcat":[
{"bounds":"flush","spacing":76,"hconcat":[
{"width":183,"height":206,"data":{"name":"p5"},
"encoding":{"x":{"field":"x","type":"quantitative","scale":{"domain":[5.2,33.6],"nice":false,"zero":false},"axis":{"values":[10,20,30],"title":"SINR(dB)","titleY":35}},
"y":{"field":"y","type":"quantitative","scale":{"domain":[-0.05,1.05],"nice":false,"zero":false},"axis":{"values":[0,0.25,0.5,0.75,1],"format":".2f","title":"CDF","titleX":-76,"titleY":100}}},
"layer":[
{"transform":[{"filter":"datum.k=='l'"}],"mark":{"type":"line","color":"#808080","strokeWidth":8.5,"strokeCap":"round","strokeJoin":"round"}},
{"transform":[{"filter":"datum.m=='b'"}],"mark":{"type":"point","filled":false,"color":"#808080","size":60,"strokeWidth":1.2,"opacity":1,"shape":"circle"}},
{"transform":[{"filter":"datum.m=='r'"}],"mark":{"type":"point","filled":false,"color":"#808080","size":60,"strokeWidth":1.2,"opacity":1,"shape":"triangle-up"}},
{"transform":[{"filter":"datum.m=='g'"}],"mark":{"type":"point","filled":false,"color":"#808080","size":60,"strokeWidth":1.2,"opacity":1,"shape":"M0,-1L0.2245,-0.309L0.951,-0.309L0.363,0.118L0.588,0.809L0,0.382L-0.588,0.809L-0.363,0.118L-0.951,-0.309L-0.2245,-0.309Z"}},
{"transform":[{"filter":"datum.s=='b'"}],"mark":{"type":"line","color":"#0000ff","strokeWidth":8,"strokeCap":"round","strokeJoin":"round"}},
{"transform":[{"filter":"datum.s=='b'"}],"mark":{"type":"point","filled":true,"size":55,"opacity":1,"color":"#0000ff","shape":"circle"}},
{"transform":[{"filter":"datum.s=='r'"}],"mark":{"type":"line","color":"#ff0000","strokeWidth":8,"strokeCap":"round","strokeJoin":"round"}},
{"transform":[{"filter":"datum.s=='r'"}],"mark":{"type":"point","filled":true,"size":72,"opacity":1,"color":"#ff0000","shape":"triangle-up"}},
{"transform":[{"filter":"datum.s=='g'"}],"mark":{"type":"line","color":"#008000","strokeWidth":8,"strokeCap":"round","strokeJoin":"round"}},
{"transform":[{"filter":"datum.s=='g'"}],"mark":{"type":"point","filled":true,"size":70,"opacity":1,"color":"#008000","shape":"M0,-1L0.2245,-0.309L0.951,-0.309L0.363,0.118L0.588,0.809L0,0.382L-0.588,0.809L-0.363,0.118L-0.951,-0.309L-0.2245,-0.309Z"}}
]},
{"width":183,"height":206,"data":{"name":"p6"},
"encoding":{"x":{"field":"x","type":"quantitative","scale":{"domain":[72.8,94.7],"nice":false,"zero":false},"axis":{"values":[80,90],"title":"Thpr(Mbps)","titleY":35}},
"y":{"field":"y","type":"quantitative","scale":{"domain":[-0.05,1.05],"nice":false,"zero":false},"axis":{"values":[0,0.25,0.5,0.75,1],"format":".2f","title":"CDF","titleX":-73,"titleY":100}}},
"layer":[
{"transform":[{"filter":"datum.m=='b'"}],"mark":{"type":"point","filled":false,"color":"#808080","size":60,"strokeWidth":1.2,"opacity":1,"shape":"circle"}},
{"transform":[{"filter":"datum.m=='r'"}],"mark":{"type":"point","filled":false,"color":"#808080","size":60,"strokeWidth":1.2,"opacity":1,"shape":"triangle-up"}},
{"transform":[{"filter":"datum.m=='g'"}],"mark":{"type":"point","filled":false,"color":"#808080","size":60,"strokeWidth":1.2,"opacity":1,"shape":"M0,-1L0.2245,-0.309L0.951,-0.309L0.363,0.118L0.588,0.809L0,0.382L-0.588,0.809L-0.363,0.118L-0.951,-0.309L-0.2245,-0.309Z"}},
{"transform":[{"filter":"datum.s=='b'"}],"mark":{"type":"line","color":"#0000ff","strokeWidth":8,"strokeCap":"round","strokeJoin":"round"}},
{"transform":[{"filter":"datum.s=='b'"}],"mark":{"type":"point","filled":true,"size":55,"opacity":1,"color":"#0000ff","shape":"circle"}},
{"transform":[{"filter":"datum.s=='r'"}],"mark":{"type":"line","color":"#ff0000","strokeWidth":8,"strokeCap":"round","strokeJoin":"round"}},
{"transform":[{"filter":"datum.s=='r'"}],"mark":{"type":"point","filled":true,"size":72,"opacity":1,"color":"#ff0000","shape":"triangle-up"}},
{"transform":[{"filter":"datum.s=='g' && !datum.nl"}],"mark":{"type":"line","color":"#008000","strokeWidth":8,"strokeCap":"round","strokeJoin":"round"}},
{"transform":[{"filter":"datum.s=='g'"}],"mark":{"type":"point","filled":true,"size":70,"opacity":1,"color":"#008000","shape":"M0,-1L0.2245,-0.309L0.951,-0.309L0.363,0.118L0.588,0.809L0,0.382L-0.588,0.809L-0.363,0.118L-0.951,-0.309L-0.2245,-0.309Z"}}
]}
]},
{"bounds":"flush","spacing":65,"hconcat":[
{"width":184,"height":206,
"resolve":{"axis":{"y":"independent"}},
"encoding":{"x":{"field":"x","type":"quantitative","scale":{"domain":[-1.5,31.5],"nice":false,"zero":false},"axis":{"values":[0,20],"title":"Time (s)","titleY":35}},
"y":{"field":"y","type":"quantitative","scale":{"type":"log","domain":[7.57,3590],"nice":false},"axis":null}},
"layer":[
{"data":{"name":"p7e"},"mark":{"type":"line","color":"#808080","strokeWidth":9,"strokeCap":"round"},
"encoding":{"y":{"field":"y","type":"quantitative","scale":{"type":"log","domain":[7.57,3590],"nice":false},"axis":{"orient":"left","values":[10,100,1000],"labelExpr":"datum.value < 50 ? '10¹' : datum.value < 500 ? '10²' : '10³'","title":"t","titleX":-87,"titleY":100}}}},
{"data":{"name":"p7c"},"transform":[{"filter":"indexof(datum.s,'b')>=0 && isValid(datum.g)"}],"mark":{"type":"line","color":"#0000ff","strokeWidth":8,"strokeCap":"round"},
"encoding":{"detail":{"field":"g","type":"nominal"},"y":{"field":"y","type":"quantitative","scale":{"type":"log","domain":[7.57,3590],"nice":false},"axis":{"orient":"left","values":[8,9,20,30,40,50,60,70,80,90,200,300,400,500,600,700,800,900,2000,3000],"labels":false,"tickSize":2,"title":"update","titleX":-80,"titleY":103,"titleFontSize":13}}}},
{"data":{"name":"p7c"},"transform":[{"filter":"indexof(datum.s,'b')>=0"}],"mark":{"type":"point","filled":true,"size":55,"opacity":1,"color":"#0000ff","shape":"circle"},
"encoding":{"y":{"field":"y","type":"quantitative","scale":{"type":"log","domain":[7.57,3590],"nice":false},"axis":{"orient":"left","labels":false,"ticks":false,"title":"(ms)","titleX":-41,"titleY":100}}}},
{"data":{"name":"p7c"},"transform":[{"filter":"indexof(datum.s,'r')>=0 && isValid(datum.g)"}],"mark":{"type":"line","color":"#ff0000","strokeWidth":8,"strokeCap":"round"},"encoding":{"detail":{"field":"g","type":"nominal"}}},
{"data":{"name":"p7c"},"transform":[{"filter":"indexof(datum.s,'r')>=0"}],"mark":{"type":"point","filled":true,"size":72,"opacity":1,"color":"#ff0000","shape":"triangle-up"}},
{"data":{"name":"p7c"},"transform":[{"filter":"indexof(datum.s,'g')>=0 && isValid(datum.g)"}],"mark":{"type":"line","color":"#008000","strokeWidth":8,"strokeCap":"round"},"encoding":{"detail":{"field":"g","type":"nominal"}}},
{"data":{"name":"p7c"},"transform":[{"filter":"indexof(datum.s,'g')>=0"}],"mark":{"type":"point","filled":true,"size":70,"opacity":1,"color":"#008000","shape":"M0,-1L0.2245,-0.309L0.951,-0.309L0.363,0.118L0.588,0.809L0,0.382L-0.588,0.809L-0.363,0.118L-0.951,-0.309L-0.2245,-0.309Z"}}
]},
{"width":183,"height":206,
"resolve":{"axis":{"y":"independent"}},
"encoding":{"x":{"field":"x","type":"quantitative","scale":{"domain":[-1.5,31.5],"nice":false,"zero":false},"axis":{"values":[0,20],"title":"Time (s)","titleY":35}},
"y":{"field":"y","type":"quantitative","scale":{"domain":[-5.6,118.8],"nice":false,"zero":false},"axis":null}},
"layer":[
{"data":{"name":"p4e"},"transform":[{"filter":"datum.k=='l'"}],"mark":{"type":"line","color":"#808080","strokeWidth":8,"strokeCap":"round"},
"encoding":{"y":{"field":"y","type":"quantitative","scale":{"domain":[-5.6,118.8],"nice":false,"zero":false},"axis":{"orient":"left","values":[0,25,50,75,100],"title":"B","titleX":-64,"titleY":101}}}},
{"data":{"name":"p4e"},"transform":[{"filter":"isValid(datum.m)"}],"mark":{"type":"point","filled":false,"color":"#808080","size":60,"strokeWidth":1.2,"opacity":1,"shape":"triangle-up"}},
{"data":{"name":"p4c"},"transform":[{"filter":"indexof(datum.s,'b')>=0 && isValid(datum.g)"}],"mark":{"type":"line","color":"#0000ff","strokeWidth":8,"strokeCap":"round"},
"encoding":{"detail":{"field":"g","type":"nominal"},"y":{"field":"y","type":"quantitative","scale":{"domain":[-5.6,118.8],"nice":false,"zero":false},"axis":{"orient":"left","labels":false,"ticks":false,"title":"P","titleX":-51,"titleY":104,"titleFontSize":13}}}},
{"data":{"name":"p4c"},"transform":[{"filter":"indexof(datum.s,'b')>=0"}],"mark":{"type":"point","filled":true,"size":55,"opacity":1,"color":"#0000ff","shape":"circle"}},
{"data":{"name":"p4c"},"transform":[{"filter":"indexof(datum.s,'r')>=0 && isValid(datum.g)"}],"mark":{"type":"line","color":"#ff0000","strokeWidth":8,"strokeCap":"round"},"encoding":{"detail":{"field":"g","type":"nominal"}}},
{"data":{"name":"p4c"},"transform":[{"filter":"indexof(datum.s,'r')>=0"}],"mark":{"type":"point","filled":true,"size":72,"opacity":1,"color":"#ff0000","shape":"triangle-up"}},
{"data":{"name":"p4c"},"transform":[{"filter":"indexof(datum.s,'g')>=0 && isValid(datum.g)"}],"mark":{"type":"line","color":"#008000","strokeWidth":8,"strokeCap":"round"},"encoding":{"detail":{"field":"g","type":"nominal"}}},
{"data":{"name":"p4c"},"transform":[{"filter":"indexof(datum.s,'g')>=0"}],"mark":{"type":"point","filled":true,"size":70,"opacity":1,"color":"#008000","shape":"M0,-1L0.2245,-0.309L0.951,-0.309L0.363,0.118L0.588,0.809L0,0.382L-0.588,0.809L-0.363,0.118L-0.951,-0.309L-0.2245,-0.309Z"}}
]}
]}
]}
]
}
